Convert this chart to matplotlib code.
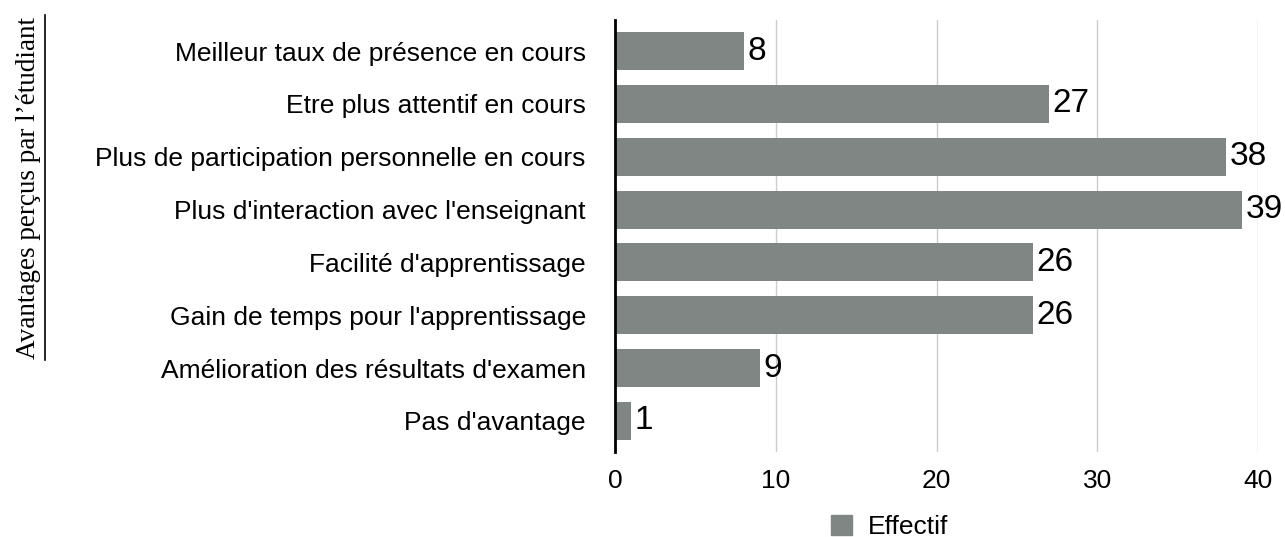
import matplotlib.pyplot as plt
from matplotlib.lines import Line2D
from matplotlib.patches import Patch

# Data
categories = [
    "Meilleur taux de présence en cours",
    "Etre plus attentif en cours",
    "Plus de participation personnelle en cours",
    "Plus d'interaction avec l'enseignant",
    "Facilité d'apprentissage",
    "Gain de temps pour l'apprentissage",
    "Amélioration des résultats d'examen",
    "Pas d'avantage",
]
effectif = [8, 27, 38, 39, 26, 26, 9, 1]
x_ticks = [0, 10, 20, 30, 40]

bar_color = "#808683"

plt.rcParams['font.family'] = ['Liberation Sans', 'DejaVu Sans']

fig = plt.figure(figsize=(12.85, 5.37), dpi=100)
ax = fig.add_axes([615 / 1285, 1 - 452 / 537, (1258 - 615) / 1285, (452 - 20) / 537])

y = list(range(len(categories)))
ax.barh(y, effectif, height=0.72, color=bar_color, zorder=2)

for yi, v in zip(y, effectif):
    ax.text(v + 0.22, yi, str(v), va='center', ha='left', fontsize=24, color='black', zorder=3)

ax.set_xlim(0, 40)
ax.set_ylim(len(categories) - 0.41, -0.59)
ax.set_xticks(x_ticks)
ax.set_xticklabels([str(t) for t in x_ticks], fontsize=19)
ax.set_yticks(y)
ax.set_yticklabels(categories, fontsize=19)
ax.tick_params(axis='both', length=0)
ax.tick_params(axis='x', pad=12)
ax.tick_params(axis='y', pad=21)

ax.grid(axis='x', color='#cccccc', linewidth=1, zorder=0)
for s in ['top', 'right', 'bottom']:
    ax.spines[s].set_visible(False)
ax.spines['left'].set_linewidth(2)
ax.spines['left'].set_zorder(4)

# y-axis title (serif, underlined)
fig.text(29 / 1285, 1 - 188 / 537, "Avantages perçus par l\u2019étudiant", rotation=90,
         ha='center', va='center', fontsize=19.5, family=['Liberation Serif', 'DejaVu Serif'])
fig.add_artist(Line2D([45 / 1285, 45 / 1285], [1 - 15 / 537, 1 - 360 / 537],
                      color='black', linewidth=1.2, transform=fig.transFigure))

fig.legend(handles=[Patch(color=bar_color, label='Effectif')], loc='center',
           bbox_to_anchor=(890 / 1285, 1 - 527 / 537), frameon=False, fontsize=19,
           handlelength=0.8, handleheight=0.8, handletextpad=0.6)

fig.savefig('out.png', dpi=100)
